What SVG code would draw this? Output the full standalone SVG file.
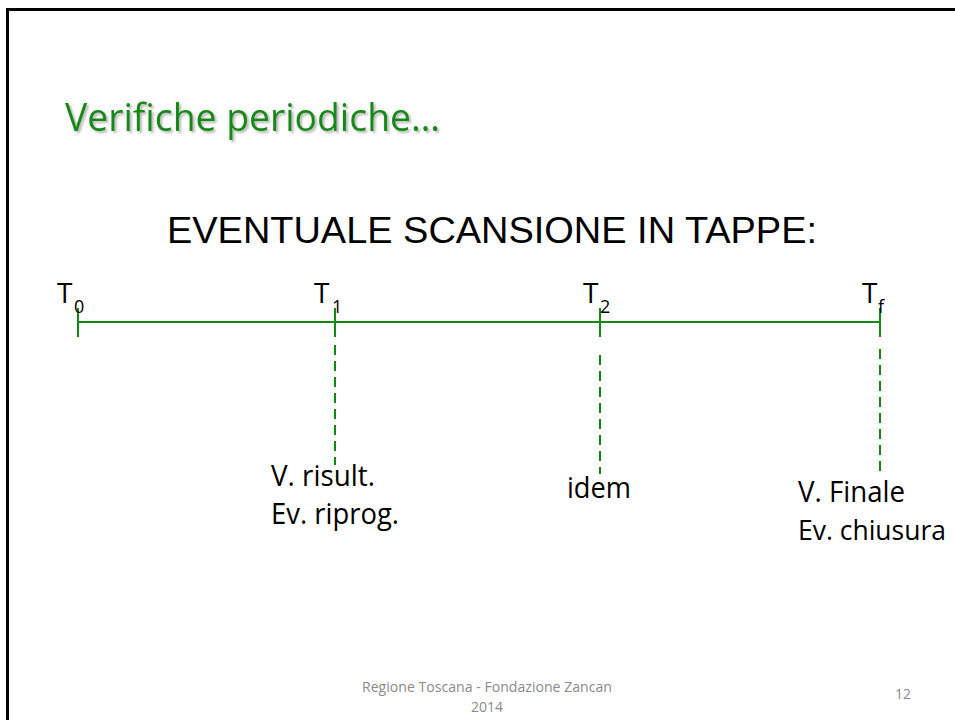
<svg xmlns="http://www.w3.org/2000/svg" width="955" height="720" viewBox="0 0 955 720">
  <defs>
    <filter id="shadow" x="-5%" y="-20%" width="110%" height="150%">
      <feDropShadow dx="2" dy="2" stdDeviation="0.8" flood-color="#999999" flood-opacity="0.7"/>
    </filter>
  </defs>
  <style>
    .title { font-family: "Open Sans", "Noto Sans", sans-serif; font-size: 38px; fill: #128a12; }
    .head { font-family: "Liberation Sans", Arial, sans-serif; font-size: 37px; fill: #000000; }
    .lbl { font-family: "Open Sans", "Noto Sans", sans-serif; font-size: 28px; fill: #000000; }
    .sub { font-family: "Open Sans", "Noto Sans", sans-serif; font-size: 18px; fill: #000000; }
    .txt { font-family: "Open Sans", "Noto Sans", sans-serif; font-size: 29px; fill: #000000; }
    .txt.small { font-size: 27px; }
    .foot { font-family: "Open Sans", "Noto Sans", sans-serif; font-size: 14px; fill: #8a8a8a; }
    .axis { stroke: #128a12; stroke-width: 2; fill: none; }
    .dash { stroke: #128a12; stroke-width: 2; fill: none; stroke-dasharray: 10 6; }
  </style>
  <rect x="0" y="0" width="955" height="720" fill="#ffffff"/>
  <path d="M7.5 725 V9.5 H960" fill="none" stroke="#000000" stroke-width="3"/>

  <g id="slide-title">
    <text class="title" x="65" y="131" textLength="375" lengthAdjust="spacingAndGlyphs" filter="url(#shadow)">Verifiche periodiche…</text>
  </g>
  <g id="heading">
    <text class="head" x="167" y="243" textLength="650" lengthAdjust="spacingAndGlyphs">EVENTUALE SCANSIONE IN TAPPE:</text>
  </g>

  <g id="connectors">
    <line class="axis" x1="78" y1="322" x2="880" y2="322"/>
    <line class="axis" x1="78" y1="308" x2="78" y2="337"/>
    <line class="axis" x1="335" y1="308" x2="335" y2="337"/>
    <line class="axis" x1="600" y1="308" x2="600" y2="337"/>
    <line class="axis" x1="880" y1="308" x2="880" y2="337"/>
    <line class="dash" x1="335" y1="345" x2="335" y2="465"/>
    <line class="dash" x1="600" y1="355" x2="600" y2="474"/>
    <line class="dash" x1="880" y1="349" x2="880" y2="473"/>
  </g>

  <g id="node-t0">
    <text class="lbl" x="57" y="303">T<tspan class="sub" x="74" y="313">0</tspan></text>
  </g>
  <g id="node-t1">
    <text class="lbl" x="314" y="303">T<tspan class="sub" x="332" y="313">1</tspan></text>
    <text class="txt" x="271" y="486" textLength="104" lengthAdjust="spacingAndGlyphs">V. risult.</text>
    <text class="txt" x="271" y="524" textLength="128" lengthAdjust="spacingAndGlyphs">Ev. riprog.</text>
  </g>
  <g id="node-t2">
    <text class="lbl" x="583" y="303">T<tspan class="sub" x="600" y="313">2</tspan></text>
    <text class="txt" x="567" y="498" textLength="64" lengthAdjust="spacingAndGlyphs">idem</text>
  </g>
  <g id="node-tf">
    <text class="lbl" x="862" y="303">T<tspan class="sub" x="878" y="313">f</tspan></text>
    <text class="txt" x="798" y="502" textLength="107" lengthAdjust="spacingAndGlyphs">V. Finale</text>
    <text class="txt small" x="798" y="540" textLength="148" lengthAdjust="spacingAndGlyphs">Ev. chiusura</text>
  </g>

  <g id="footer">
    <text class="foot" x="487" y="692" text-anchor="middle" textLength="250" lengthAdjust="spacingAndGlyphs">Regione Toscana - Fondazione Zancan</text>
    <text class="foot" x="487" y="712" text-anchor="middle">2014</text>
    <text class="foot" x="895" y="699">12</text>
  </g>
</svg>
